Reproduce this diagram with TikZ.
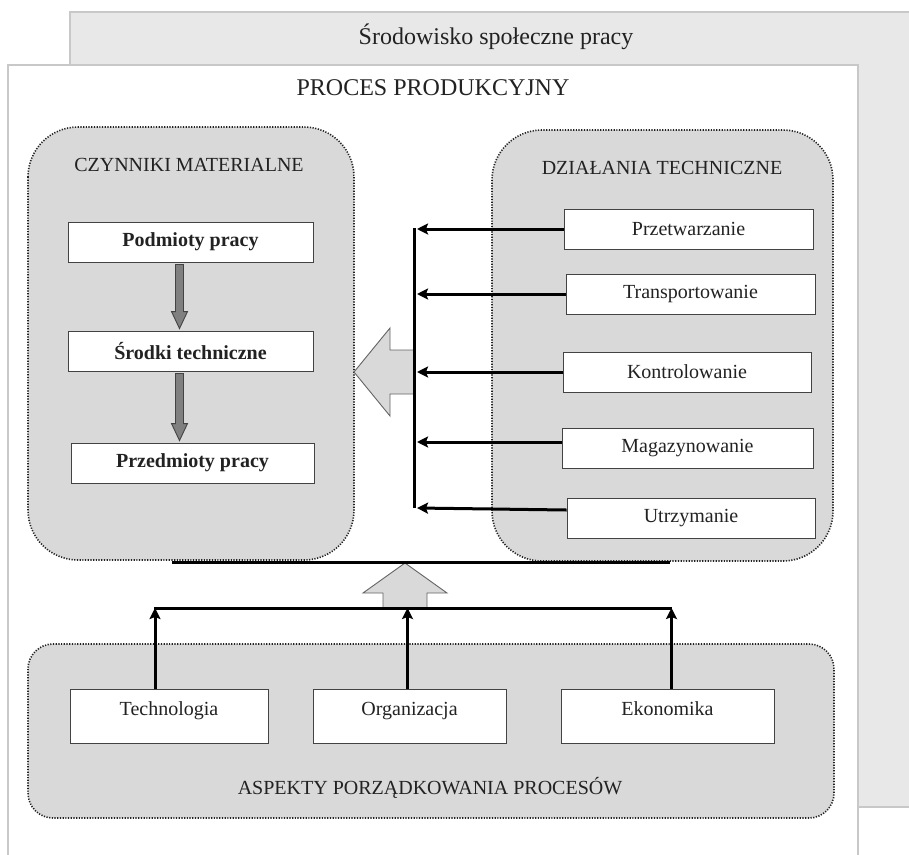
\documentclass[tikz,border=0pt]{standalone}
\usepackage{fontspec}
\setmainfont{Liberation Serif}
\usetikzlibrary{arrows.meta,calc}

\definecolor{envgray}{HTML}{E8E8E8}
\definecolor{edgegray}{HTML}{C8C8C8}
\definecolor{boxgray}{HTML}{D9D9D9}
\definecolor{midgray}{HTML}{808080}
\definecolor{ink}{HTML}{222222}

\begin{document}
\begin{tikzpicture}[x=1pt,y=-1pt,text=ink,
  font=\fontsize{20}{24}\selectfont,
  group/.style={draw=ink,fill=boxgray,line width=1.6pt,dash pattern=on 1.2pt off 1.5pt,rounded corners=50pt},
  item/.style={draw=ink!85,fill=white,line width=0.9pt,minimum height=40pt,inner sep=0pt},
  bus/.style={line width=3pt,draw=black},
  feed/.style={line width=3pt,-{Stealth[length=11pt,width=11pt,inset=2pt]}},
  bigarr/.style={draw=ink!70,fill=boxgray,line width=0.9pt,line join=miter},
  smallarr/.style={draw=ink!85,fill=midgray,line width=0.9pt}]
  \clip (0,0) rectangle (909,854);
  % srodowisko i proces
  \draw[fill=envgray,draw=edgegray,line width=1.2pt] (70,12) rectangle (940,807);
  \node (env) at (496,37) {\fontsize{24}{28}\selectfont Środowisko społeczne pracy};
  \draw[fill=white,draw=edgegray,line width=1.2pt] (8,65) rectangle (858,880);
  \node (proc) at (433,88) {\fontsize{24}{28}\selectfont PROCES PRODUKCYJNY};
  % grupy
  \draw[group] (28,127) rectangle (354,560);
  \draw[group] (492,130) rectangle (833,561);
  \draw[group,rounded corners=25pt] (28,644) rectangle (834,818);
  \node (czyn) at (189,165) {CZYNNIKI MATERIALNE};
  \node (dzial) at (662,168) {DZIAŁANIA TECHNICZNE};
  \node (asp) at (430,788) {ASPEKTY PORZĄDKOWANIA PROCESÓW};
  % czynniki
  \node[item,minimum width=245pt,font={\fontsize{20}{24}\selectfont\bfseries}] (m1) at (190.5,242) {Podmioty pracy};
  \node[item,minimum width=245pt,font={\fontsize{20}{24}\selectfont\bfseries}] (m2) at (190.5,351) {Środki techniczne};
  \node[item,minimum width=243pt,font={\fontsize{20}{24}\selectfont\bfseries}] (m3) at (192.5,463) {Przedmioty pracy};
  \foreach \a/\b in {m1/m2,m2/m3}
    \draw[smallarr] let \p1=([xshift=-11pt]\a.south), \p2=([xshift=-11pt]\b.north) in
      (\x1-4pt,\y1-2pt) -- (\x1+4pt,\y1-2pt) -- (\x1+4pt,\y2+19pt) -- (\x1+8pt,\y2+19pt)
      -- (\x1,\y2+2pt) -- (\x1-8pt,\y2+19pt) -- (\x1-4pt,\y2+19pt) -- cycle;
  % dzialania
  \node[item,minimum width=249pt] (d1) at (688.5,229) {Przetwarzanie};
  \node[item,minimum width=249pt] (d2) at (690.5,294) {Transportowanie};
  \node[item,minimum width=248pt] (d3) at (687,372) {Kontrolowanie};
  \node[item,minimum width=251pt] (d4) at (687.5,448) {Magazynowanie};
  \node[item,minimum width=248pt] (d5) at (691,518) {Utrzymanie};
  \coordinate (bt) at (414,228);
  \coordinate (bb) at (414,508);
  \draw[bigarr] (413,350) -- (390,350) -- (390,328) -- (354,372) -- (390,416) -- (390,394) -- (413,394);
  \draw[bus] (bt) -- (bb);
  \foreach \n/\dy in {d1/0,d2/0,d3/0,d4/6}
    \draw[feed] ([yshift=\dy pt]\n.west) -- ([xshift=3pt,yshift=\dy pt]bt |- \n.west);
  \draw[feed] ([yshift=8pt]d5.west) -- ([xshift=3pt,yshift=10pt]bt |- d5.west);
  % aspekty
  \node[item,minimum width=198pt,minimum height=54pt,text height=14pt,text depth=16pt] (a1) at (169,716) {Technologia};
  \node[item,minimum width=193pt,minimum height=54pt,text height=14pt,text depth=16pt] (a2) at (409.5,716) {Organizacja};
  \node[item,minimum width=213pt,minimum height=54pt,text height=14pt,text depth=16pt] (a3) at (667.5,716) {Ekonomika};
  \coordinate (la) at (154,608);
  \coordinate (lb) at (672,608);
  \coordinate (ta) at (172,562);
  \coordinate (tb) at (670,562);
  \draw[bigarr] (383,607) -- (383,593) -- (363,593) -- (405,563) -- (447,593) -- (427,593) -- (427,607);
  \foreach \n/\dx in {a1/-14,a2/-2,a3/4}
    \draw[feed] ([xshift=\dx pt]\n.north) -- ([xshift=\dx pt]la -| \n.north);
  \draw[bus] (la) -- (lb);
  \draw[bus] (ta) -- (tb);
\end{tikzpicture}
\end{document}
